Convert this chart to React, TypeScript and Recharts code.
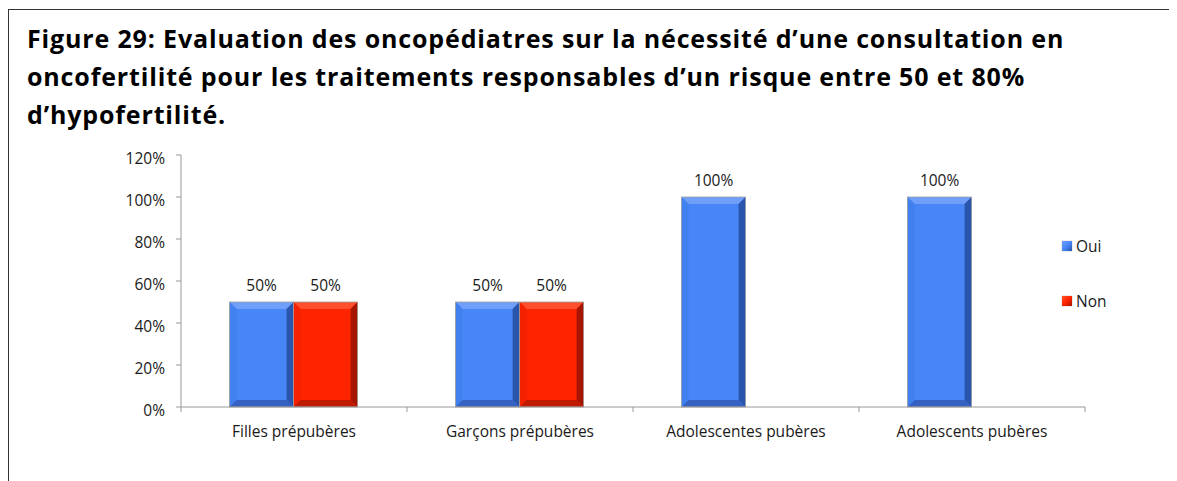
import React from 'react';
import { BarChart, Bar, XAxis, YAxis, LabelList } from 'recharts';

const categories = ['Filles prépubères', 'Garçons prépubères', 'Adolescentes pubères', 'Adolescents pubères'];
const oui = [50, 50, 100, 100];
const non = [50, 50, 0, 0];
const yTicks = [0, 20, 40, 60, 80, 100, 120];

const titleLines = [
  'Figure 29: Evaluation des oncopédiatres sur la nécessité d’une consultation en',
  'oncofertilité pour les traitements responsables d’un risque entre 50 et 80%',
  'd’hypofertilité.',
];

const data = categories.map((name, i) => ({ name, oui: oui[i], non: non[i] }));

const FONT = '"Open Sans", Lato, sans-serif';
const SMALL = 15.5;
const CHART_W = 1168;
const CHART_H = 340;
const Y_AXIS_W = 172;
const MARGIN = { top: 15, right: 92, bottom: 32, left: 0 };
const X_AXIS_H = 41;
const PLOT_W = CHART_W - Y_AXIS_W - MARGIN.left - MARGIN.right;
const AXIS_Y = CHART_H - MARGIN.bottom - X_AXIS_H;
const BAND = PLOT_W / categories.length;

// palette for the bevelled bars
const SERIES = [
  { key: 'oui', label: 'Oui', main: '#4886f7', light: '#6f9ff8', left: '#4080ef', dark: '#2a55ad', bottom: '#3461c2' },
  { key: 'non', label: 'Non', main: '#ff2400', light: '#ff4f2c', left: '#f42200', dark: '#a51500', bottom: '#c01a00' },
];

const bevelShape = (s: typeof SERIES[number]) => (props: any) => {
  const { x, y, width, height } = props;
  if (!height || height <= 0) return <g />;
  const b = Math.min(7, width / 4, height / 4);
  const r = x + width;
  const btm = y + height;
  return (
    <g>
      <rect x={x} y={y} width={width} height={height} fill={s.main} />
      <polygon points={`${x},${y} ${r},${y} ${r - b},${y + b} ${x + b},${y + b}`} fill={s.light} />
      <polygon points={`${x},${y} ${x + b},${y + b} ${x + b},${btm - b} ${x},${btm}`} fill={s.left} />
      <polygon points={`${r},${y} ${r},${btm} ${r - b},${btm - b} ${r - b},${y + b}`} fill={s.dark} />
      <polygon points={`${x},${btm} ${r},${btm} ${r - b},${btm - b} ${x + b},${btm - b}`} fill={s.bottom} />
      <rect x={x} y={y} width={width} height={height} fill="none" stroke="#a0a0a0" strokeWidth={0.8} />
    </g>
  );
};

const XTick = (props: any) => {
  const { x, payload, index } = props;
  const left = x - BAND / 2;
  return (
    <g>
      <line x1={left} y1={AXIS_Y} x2={left} y2={AXIS_Y + 5} stroke="#999" />
      {index === categories.length - 1 && (
        <line x1={x + BAND / 2} y1={AXIS_Y} x2={x + BAND / 2} y2={AXIS_Y + 5} stroke="#999" />
      )}
      <text x={x} y={AXIS_Y + 30} textAnchor="middle" fill="#1a1a1a" fontSize={SMALL} fontFamily={FONT}>
        {payload.value}
      </text>
    </g>
  );
};

const YTick = (props: any) => {
  const { x, y, payload } = props;
  return (
    <text x={x} y={y + 3} dy="0.355em" textAnchor="end" fill="#1a1a1a" fontSize={SMALL} fontFamily={FONT}>
      {`${payload.value}%`}
    </text>
  );
};

const pctLabel = (v: any) => (v ? `${v}%` : '');

export default function App() {
  return (
    <div
      style={{
        position: 'relative',
        width: 1180,
        height: 480,
        marginTop: 1,
        borderTop: '1px solid #333',
        borderLeft: '1px solid #333',
        fontFamily: FONT,
        background: '#fff',
      }}
    >
      <div
        style={{
          position: 'absolute',
          left: 18,
          top: 9,
          fontSize: 25,
          fontWeight: 700,
          letterSpacing: 0.85,
          lineHeight: '38px',
          color: '#000',
          whiteSpace: 'nowrap',
        }}
      >
        {titleLines.map((l) => (
          <div key={l}>{l}</div>
        ))}
      </div>

      <div style={{ position: 'absolute', left: 0, top: 130 }}>
        <BarChart width={CHART_W} height={CHART_H} data={data} margin={MARGIN} barGap={0} barCategoryGap="21.5%">
          <XAxis
            dataKey="name"
            height={X_AXIS_H}
            stroke="#999"
            tickLine={false}
            tick={<XTick />}
            interval={0}
          />
          <YAxis
            width={Y_AXIS_W}
            domain={[0, 120]}
            ticks={yTicks}
            stroke="#999"
            tickSize={5}
            tickMargin={11}
            tick={<YTick />}
            interval={0}
          />
          {SERIES.map((s) => (
            <Bar key={s.key} dataKey={s.key} fill={s.main} shape={bevelShape(s)} isAnimationActive={false}>
              <LabelList
                dataKey={s.key}
                position="top"
                offset={11}
                formatter={pctLabel}
                fill="#1a1a1a"
                fontSize={SMALL}
                fontFamily={FONT}
              />
            </Bar>
          ))}
        </BarChart>
      </div>

      <div style={{ position: 'absolute', left: 1053, top: 226, fontSize: SMALL, color: '#1a1a1a' }}>
        {SERIES.map((s, i) => (
          <div key={s.key} style={{ display: 'flex', alignItems: 'center', height: 20, marginTop: i ? 35 : 0 }}>
            <span
              style={{
                display: 'inline-block',
                width: 10,
                height: 10,
                marginRight: 4,
                background: `linear-gradient(135deg, ${s.light}, ${s.main} 50%, ${s.dark})`,
                boxShadow: '0 0 1px #888',
              }}
            />
            {s.label}
          </div>
        ))}
      </div>
    </div>
  );
}
